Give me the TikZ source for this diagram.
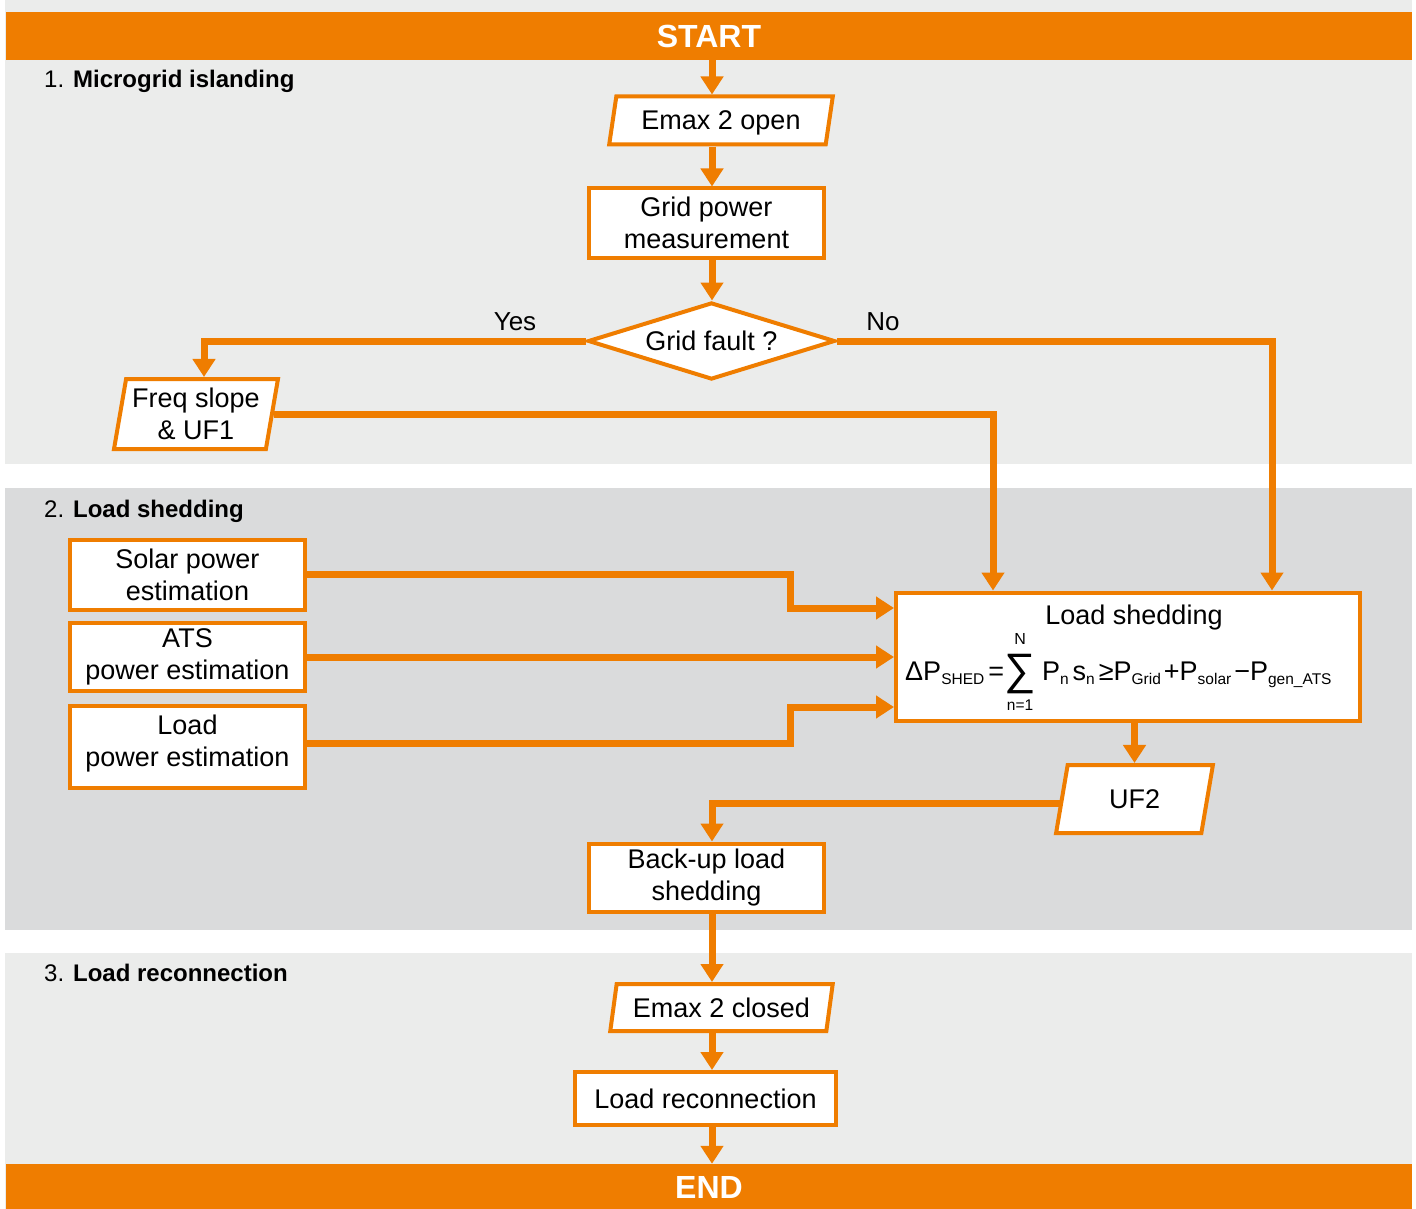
\documentclass[tikz,border=0pt]{standalone}
\usepackage{fontspec}
\setmainfont{Liberation Sans}
\usetikzlibrary{shapes.geometric,arrows.meta,calc}
\definecolor{abbor}{RGB}{239,125,0}
\definecolor{lgray}{RGB}{235,236,235}
\definecolor{dgray}{RGB}{218,219,220}
\newcommand\sbs[1]{\raisebox{-4.5pt}{\fontsize{15.5}{15.5}\selectfont #1}}
\newcommand\sumblk{\makebox[32pt][c]{\makebox[0pt][c]{\raisebox{-4pt}{\fontsize{44}{44}\selectfont ∑}}\makebox[0pt][c]{\raisebox{36pt}{\fontsize{16}{16}\selectfont N}}\makebox[0pt][c]{\raisebox{-30pt}{\fontsize{15.5}{15.5}\selectfont n=1}}}}
\begin{document}
\begin{tikzpicture}[x=1pt,y=-1pt,
  box/.style={draw=abbor, line width=4pt, fill=white, rectangle, align=center, inner sep=0pt, text=black, font=\fontsize{27}{32}\selectfont},
  para/.style={box, trapezium, trapezium stretches=true},
  band/.style={fill=abbor, text=white, inner sep=0pt, font=\fontsize{32}{32}\selectfont\bfseries},
  conn/.style={draw=abbor, line width=7pt, -{Triangle[length=18pt,width=22pt]}},
  lab/.style={anchor=base west, inner sep=0pt, font=\fontsize{24}{24}\selectfont},
  yn/.style={inner sep=0pt, font=\fontsize{26}{26}\selectfont}
]
\useasboundingbox (0,0) rectangle (1416,1209);
\fill[white] (0,0) rectangle (1416,1209);
\fill[lgray] (5,0) rectangle (1412,464);
\fill[dgray] (5,488) rectangle (1412,930);
\fill[lgray] (5,953) rectangle (1412,1209);

\coordinate (spine) at (712,0);
\coordinate (fsx) at (204,0);
\coordinate (nox) at (1272,0);
\coordinate (frx) at (993,0);
\coordinate (jx) at (790,0);

\node[band, minimum width=1406pt, minimum height=48pt] (startb) at (709,36) {START};
\node[band, minimum width=1406pt, minimum height=46pt] (endb) at (709,1187) {END};

\node[lab] (s1) at (44,88) {1. \textbf{Microgrid islanding}};
\node[lab] (s2) at (44,517) {2. \textbf{Load shedding}};
\node[lab] (s3) at (44,981) {3. \textbf{Load reconnection}};

\node[para, text depth=0pt, trapezium left angle=74, trapezium right angle=106, minimum width=224pt, minimum height=48pt] (emax1) at (721,120.5) {Emax 2 open};
\node[box, minimum width=235pt, minimum height=69pt] (gpm) at (706.5,223) {Grid power\\measurement};
\node[box, diamond, aspect=3.2, minimum width=247pt, minimum height=77pt] (gf) at (711.5,341) {Grid fault ?};
\node[para, trapezium left angle=78, trapezium right angle=102, minimum width=164pt, minimum height=70pt] (fs) at (196,414) {Freq slope\\\& UF1};
\node[yn] (yes) at (515,322) {Yes};
\node[yn] (no) at (883,322) {No};

\node[box, minimum width=235pt, minimum height=70pt] (solar) at (187.5,574.5) {Solar power\\estimation};
\node[box, minimum width=235pt, minimum height=68pt] (ats) at (187.5,657) {ATS\\power estimation};
\node[box, minimum width=235pt, minimum height=82pt, text depth=12pt] (lpe) at (187.5,747) {Load\\power estimation};

\node[box, minimum width=464pt, minimum height=128pt] (ls) at (1128,656.5) {};
\node[anchor=base, inner sep=0pt, font=\fontsize{27}{27}\selectfont] (lstitle) at (1134,624) {Load shedding};
\node[anchor=base west, inner sep=0pt, font=\fontsize{27}{27}\selectfont] (lsform) at (905,680)
  {ΔP\sbs{SHED}\hspace{4pt}=\sumblk\hspace{6pt}P\sbs{n}\hspace{4pt}s\sbs{n}\hspace{4pt}≥P\sbs{Grid}\hspace{3pt}+P\sbs{solar}\hspace{3pt}−P\sbs{gen\_ATS}};

\node[para, trapezium left angle=77, trapezium right angle=103, minimum width=157pt, minimum height=68pt] (uf2) at (1134.5,799) {UF2};
\node[box, minimum width=235pt, minimum height=68pt] (bls) at (706.5,877.5) {Back-up load\\shedding};
\node[para, text depth=0pt, trapezium left angle=74.6, trapezium right angle=105.4, minimum width=223pt, minimum height=47pt] (emax2) at (721.5,1007.5) {Emax 2 closed};
\node[box, minimum width=261pt, minimum height=53pt] (lr) at (705.5,1098.5) {Load reconnection};

\draw[conn] (startb.south -| spine) -- (emax1.north -| spine);
\draw[conn] (emax1.south -| spine) -- (gpm.north -| spine);
\draw[conn] (gpm.south -| spine) -- (gf.north -| spine);
\draw[conn] (gf.west) -| (fs.north -| fsx);
\draw[conn] (gf.east) -| (ls.north -| nox);
\draw[conn] (fs.east) -| (ls.north -| frx);
\draw[conn] (solar.east) -- (solar.east -| jx) |- ($(ls.west)+(0,-48.5)$);
\draw[conn] (ats.east) -- (ats.east -| ls.west);
\draw[conn] ($(lpe.east)+(0,-4)$) -- ($(lpe.east -| jx)+(0,-4)$) |- ($(ls.west)+(0,50.5)$);
\draw[conn] (ls.south -| uf2.north) -- (uf2.north);
\draw[conn] ($(uf2.west)+(0,4)$) -| (bls.north -| spine);
\draw[conn] (bls.south -| spine) -- (emax2.north -| spine);
\draw[conn] (emax2.south -| spine) -- (lr.north -| spine);
\draw[conn] (lr.south -| spine) -- (endb.north -| spine);
\end{tikzpicture}
\end{document}
